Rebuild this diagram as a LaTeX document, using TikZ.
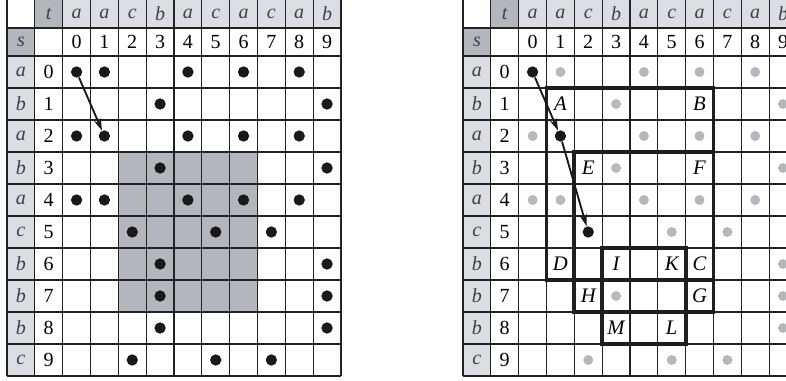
\documentclass[tikz,border=0pt]{standalone}
\usepackage{fontspec}
\setmainfont{Liberation Serif}
\usetikzlibrary{arrows.meta}
\definecolor{hdrdark}{HTML}{B3B6BC}
\definecolor{hdrlight}{HTML}{DCDDE2}
\definecolor{dotgray}{HTML}{B5B8BD}
\definecolor{gridline}{HTML}{222222}
\newcommand{\cw}{27.83}% cell width (px)

\begin{document}
\begin{tikzpicture}[x=0.75pt, y=-0.75pt, every node/.style={font=\fontsize{15}{17}\selectfont},
  gridln/.style={draw=gridline, line width=0.9pt},
  frame/.style={draw=black!88, line width=2.8pt},
  hdr/.style={text=black!75, font=\fontsize{15}{17}\selectfont\itshape},
  dot/.style={circle, fill=black!90, inner sep=0pt, minimum size=8.5pt},
  gdot/.style={circle, fill=dotgray, inner sep=0pt, minimum size=7.5pt},
  lbl/.style={font=\fontsize{15.5}{17}\selectfont\itshape},
  trace/.style={-{Stealth[length=9pt,width=5.5pt]}, line width=1.4pt, black!90}]
\useasboundingbox (0,0) rectangle (786,381);
\clip (0,0) rectangle (786,381);
% shaded block, left table
\fill[hdrdark] ({7+4*\cw},152) rectangle ({7+9*\cw},312);
% both tables
\foreach \g/\gx in {L/7,R/463}{
  \begin{scope}[shift={(\gx,0)}]
  \fill[hdrlight] ({2*\cw},0) rectangle ({12*\cw},28);
  \fill[hdrlight] (0,56) rectangle (\cw,376);
  \fill[hdrdark] (\cw,0) rectangle ({2*\cw},28);
  \fill[hdrdark] (0,28) rectangle (\cw,56);
  \foreach \k in {0,...,12} \draw[gridln] ({\k*\cw},0) -- ({\k*\cw},376);
  \foreach \yy in {28,56,88,...,376} \draw[gridln] (0,\yy) -- ({12*\cw},\yy);
  \node[hdr] (\g-t) at ({1.5*\cw},14) {t};
  \node[hdr] (\g-s) at ({0.5*\cw},42) {s};
  \foreach \c [count=\j from 0] in {a,a,c,b,a,c,a,c,a,b}{
    \node[hdr] (\g-tc\j) at ({(\j+2.5)*\cw},14) {\c};
    \node (\g-tn\j) at ({(\j+2.5)*\cw},42) {\j};
  }
  \foreach \c [count=\i from 0] in {a,b,a,b,a,c,b,b,b,c}{
    \node[hdr] (\g-sc\i) at ({0.5*\cw},{72+32*\i}) {\c};
    \node (\g-sn\i) at ({1.5*\cw},{72+32*\i}) {\i};
  }
  \end{scope}
}
% left table: matches
\begin{scope}[shift={(7,0)}]
\foreach \i/\cols in {0/{0,1,4,6,8},1/{3,9},2/{0,1,4,6,8},3/{3,9},4/{0,1,4,6,8},
    5/{2,5,7},6/{3,9},7/{3,9},8/{3,9},9/{2,5,7}}
  \foreach \j in \cols \node[dot] (L-\i-\j) at ({(\j+2.5)*\cw},{72+32*\i}) {};
\end{scope}
\draw[trace] (L-0-0) -- (L-2-1);
% right table: regions
\begin{scope}[shift={(463,0)}]
\draw[frame] ({3*\cw},88) rectangle ({9*\cw},280);
\draw[frame] ({4*\cw},152) rectangle ({9*\cw},312);
\draw[frame] ({5*\cw},248) rectangle ({8*\cw},344);
\foreach \i/\cols in {0/{1,4,6,8},1/{3,9},2/{0,4,6,8},3/{3,9},4/{0,1,4,6,8},
    5/{5,7},6/{9},7/{3,9},8/{9},9/{2,5,7}}
  \foreach \j in \cols \node[gdot] (R-\i-\j) at ({(\j+2.5)*\cw},{72+32*\i}) {};
\node[dot] (R-0-0) at ({2.5*\cw},72) {};
\node[dot] (R-2-1) at ({3.5*\cw},136) {};
\node[dot] (R-5-2) at ({4.5*\cw},232) {};
\foreach \t/\i/\j in {A/1/1,B/1/6,E/3/2,F/3/6,D/6/1,I/6/3,K/6/5,C/6/6,H/7/2,G/7/6,M/8/3,L/8/5}
  \node[lbl] (R-\t) at ({(\j+2.5)*\cw},{72+32*\i}) {\t};
\end{scope}
\draw[trace] (R-0-0) -- (R-2-1);
\draw[trace] (R-2-1) -- (R-5-2);
\end{tikzpicture}
\end{document}
